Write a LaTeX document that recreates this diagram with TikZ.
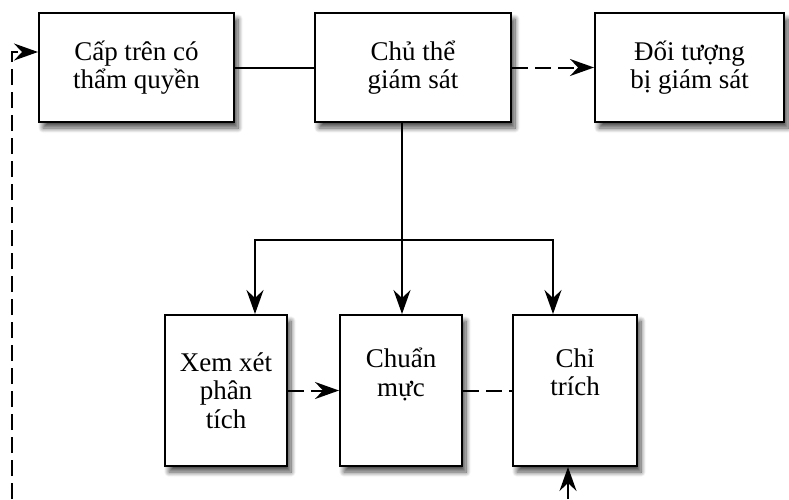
\documentclass[tikz,border=0pt]{standalone}
\usepackage{fontspec}
\setmainfont{Liberation Serif}
\usetikzlibrary{arrows.meta,shadows.blur,calc}
\begin{document}
\begin{tikzpicture}[x=1pt,y=-1pt,
  line width=2pt,
  box/.style={draw=black, fill=white, line width=2pt, align=center,
    inner sep=0pt,
    font=\fontsize{27}{28.5}\selectfont,
    blur shadow={shadow xshift=4pt, shadow yshift=-6pt, shadow blur radius=5pt, shadow blur steps=10, shadow opacity=70}},
  topbox/.style={box, minimum height=109pt},
  lowbox/.style={box, minimum width=122pt, minimum height=151pt},
  tip/.style={-{Stealth[length=24pt, width=17pt, inset=8pt]}},
  dash line/.style={dash pattern=on 16pt off 7pt}
]
\useasboundingbox (0,0) rectangle (789,499);

% upper row
\node[topbox, minimum width=195pt] (cap) at (136.5,67.5) {Cấp trên có\\thẩm quyền};
\node[topbox, minimum width=196pt] (chu) at (413,67.5) {Chủ thể\\giám sát};
\node[topbox, minimum width=189pt] (doi) at (689.5,67.5) {Đối tượng\\bị giám sát};

% lower row
\node[lowbox] (xem) at (226,390.5) {Xem xét\\phân\\tích};
\node[lowbox] (chuan) at (401,390.5) {Chuẩn\\mực\\\strut};
\node[lowbox, minimum width=124pt] (chi) at (575,390.5) {Chỉ\\trích\\\strut};

% branching bar
\coordinate (split) at (402,240);
\coordinate (barL) at (255,240);
\coordinate (barR) at (553,240);
\coordinate (fbL) at (12,499);
\coordinate (fbR) at (568,499);

\draw (cap.east) -- (chu.west);
\draw[tip, dash line] (chu.east) -- (doi.west);

\draw[tip] (chu.south -| split) -- (split |- chuan.north);
\draw[tip] (split) -- (barL) -- (barL |- xem.north);
\draw[tip] (split) -- (barR) -- (barR |- chi.north);

\draw[tip, dash line] (xem.east) -- (chuan.west);
\draw[dash line] (chuan.east) -- (chi.west);

% feedback lines leaving the lower edge
\draw[tip, dash line] (fbL) |- ($(cap.west)+(0,-15.5)$);
\draw[tip, dash line] (fbR) -- (fbR |- chi.south);
\end{tikzpicture}
\end{document}
